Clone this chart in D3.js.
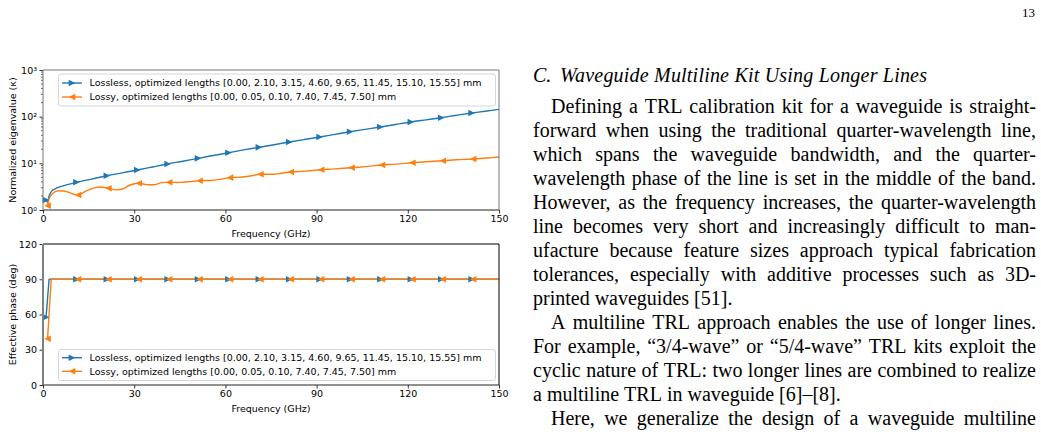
<!DOCTYPE html>
<html><head><meta charset="utf-8">
<script src="https://cdn.jsdelivr.net/npm/d3@7"></script>
<style>html,body{margin:0;padding:0;background:#fff;overflow:hidden}</style>
</head><body>
<svg id="page" width="1041" height="438" xmlns="http://www.w3.org/2000/svg"></svg>
<script>
// ---------------- data ----------------
const losslessFreq  = [1, 1.5, 2, 3, 4, 6, 8, 11, 16, 21, 26, 31, 36, 41, 46, 51, 56, 61, 66, 71, 76, 81, 86, 91, 96, 101, 106, 111, 116, 121, 126, 131, 136, 141, 146, 150];
const losslessKappa = [1.64, 1.45, 2.0, 2.6, 2.85, 3.2, 3.5, 3.92, 4.6, 5.43, 6.25, 7.2, 8.35, 9.7, 11.1, 12.8, 14.7, 16.9, 19.4, 22.0, 25.0, 28.6, 32.4, 36.6, 41.8, 47.6, 53.5, 60.1, 68.0, 76.9, 85.5, 95.0, 107, 119.7, 132, 143];
const lossyFreq  = [1.5, 2.3, 4, 5.6, 7.8, 10, 11.5, 14.4, 17.1, 19.3, 21.5, 24.2, 26.4, 28.6, 31.5, 34.1, 36.8, 39, 41.5, 45, 48.4, 51.5, 54.9, 58.2, 61.5, 64.8, 68.1, 71.5, 76, 78.5, 81.5, 86, 91.5, 96, 101.5, 106, 111.5, 116, 121.5, 126, 131.5, 136, 141.5, 146, 150];
const lossyKappa = [1.24, 1.93, 2.47, 2.59, 2.47, 2.2, 2.1, 2.6, 3.01, 3.1, 2.92, 2.7, 2.85, 3.43, 3.73, 3.5, 3.5, 3.85, 3.92, 3.9, 4.05, 4.25, 4.3, 4.54, 4.93, 5.05, 5.35, 5.82, 5.85, 6.15, 6.52, 6.8, 7.3, 7.6, 8.06, 8.5, 9.2, 9.6, 10.3, 10.8, 11.4, 11.9, 12.4, 13.0, 13.7];
const losslessMarkerFreq = [1, 11, 21, 31, 41, 51, 61, 71, 81, 91, 101, 111, 121, 131, 141];
const lossyMarkerFreq    = [1.5, 11.5, 21.5, 31.5, 41.5, 51.5, 61.5, 71.5, 81.5, 91.5, 101.5, 111.5, 121.5, 131.5, 141.5];

const losslessPhaseFreq = [1, 2, 11, 21, 31, 41, 51, 61, 71, 81, 91, 101, 111, 121, 131, 141, 150];
const losslessPhase     = [57.6, 90, 90, 90, 90, 90, 90, 90, 90, 90, 90, 90, 90, 90, 90, 90, 90];
const lossyPhaseFreq = [1.5, 2.7, 11.5, 21.5, 31.5, 41.5, 51.5, 61.5, 71.5, 81.5, 91.5, 101.5, 111.5, 121.5, 131.5, 141.5, 150];
const lossyPhase     = [39.4, 90, 90, 90, 90, 90, 90, 90, 90, 90, 90, 90, 90, 90, 90, 90, 90];

const freqTicks  = [0, 30, 60, 90, 120, 150];
const kappaTicks = [1, 10, 100, 1000];
const kappaTickLabels = ["10\u2070", "10\u00B9", "10\u00B2", "10\u00B3"];
const phaseTicks = [0, 30, 60, 90, 120];
const seriesNames = [
  "Lossless, optimized lengths [0.00, 2.10, 3.15, 4.60, 9.65, 11.45, 15.10, 15.55] mm",
  "Lossy, optimized lengths [0.00, 0.05, 0.10, 7.40, 7.45, 7.50] mm"
];
const seriesColors = ["#1f77b4", "#ff7f0e"];
const xLabel = "Frequency (GHz)";
const kappaLabel = "Normalized eigenvalue (\u03BA)";
const phaseLabel = "Effective phase (deg)";

const pageNumber = "13";
const headingNum = "C.";
const headingText = "Waveguide Multiline Kit Using Longer Lines";
// [text, indent, justify]
const bodyLines = [
  ["Defining a TRL calibration kit for a waveguide is straight-", true, true],
  ["forward when using the traditional quarter-wavelength line,", false, true],
  ["which spans the waveguide bandwidth, and the quarter-", false, true],
  ["wavelength phase of the line is set in the middle of the band.", false, true],
  ["However, as the frequency increases, the quarter-wavelength", false, true],
  ["line becomes very short and increasingly difficult to man-", false, true],
  ["ufacture because feature sizes approach typical fabrication", false, true],
  ["tolerances, especially with additive processes such as 3D-", false, true],
  ["printed waveguides [51].", false, false],
  ["A multiline TRL approach enables the use of longer lines.", true, true],
  ["For example, \u201C3/4-wave\u201D or \u201C5/4-wave\u201D TRL kits exploit the", false, true],
  ["cyclic nature of TRL: two longer lines are combined to realize", false, true],
  ["a multiline TRL in waveguide [6]\u2013[8].", false, false],
  ["Here, we generalize the design of a waveguide multiline", true, true]
];

// ---------------- drawing ----------------
const svg = d3.select("#page");
svg.append("rect").attr("width", 1041).attr("height", 438).attr("fill", "#fff");
const chartFont = "DejaVu Sans, sans-serif";
const fs = 9.5;

function triPath(dir, s) {
  return dir > 0 ? `M${s},0L${-s},${-s}L${-s},${s}Z` : `M${-s},0L${s},${-s}L${s},${s}Z`;
}

function drawPanel(opts) {
  const { x, y, top, bottom, left, right, frameColor, leftColor, leftWidth } = opts;
  const g = svg.append("g");
  const id = "clip" + Math.round(top);
  svg.append("clipPath").attr("id", id).append("rect")
    .attr("x", left).attr("y", top - 5).attr("width", right - left).attr("height", bottom - top + 5);

  const xa = g.append("g").attr("transform", `translate(0,${bottom})`)
    .call(d3.axisBottom(x).tickValues(freqTicks).tickFormat(d3.format("d")).tickSizeOuter(0).tickSize(3.5).tickPadding(2));
  xa.select(".domain").remove();
  xa.selectAll("text").attr("font-family", chartFont).attr("font-size", fs).attr("fill", "#000");
  xa.selectAll("line").attr("stroke", "#000").attr("stroke-width", 0.8);

  const ya = g.append("g").attr("transform", `translate(${left},0)`)
    .call(d3.axisLeft(y).tickValues(opts.yTicks).tickFormat((d, i) => opts.yLabels ? opts.yLabels[i] : d).tickSizeOuter(0).tickSize(3.5).tickPadding(2.5));
  ya.select(".domain").remove();
  ya.selectAll("text").attr("font-family", chartFont).attr("font-size", fs).attr("fill", "#000");
  ya.selectAll("line").attr("stroke", "#000").attr("stroke-width", 0.8);

  if (opts.minor) {
    const minor = y.ticks().filter(v => !opts.yTicks.includes(v));
    g.append("g").selectAll("line").data(minor).join("line")
      .attr("x1", left).attr("x2", left - 2).attr("y1", d => y(d)).attr("y2", d => y(d))
      .attr("stroke", "#000").attr("stroke-width", 0.6);
  }

  g.append("text").attr("x", (left + right) / 2).attr("y", bottom + 26.5).attr("text-anchor", "middle")
    .attr("font-family", chartFont).attr("font-size", fs).text(xLabel);
  g.append("text").attr("transform", `translate(13,${(top + bottom) / 2}) rotate(-90)`).attr("dy", "0.35em")
    .attr("text-anchor", "middle").attr("font-family", chartFont).attr("font-size", fs).text(opts.yTitle);

  const plot = g.append("g").attr("clip-path", `url(#${id})`);
  opts.series.forEach((s, k) => {
    const line = d3.line().x(d => x(d[0])).y(d => y(d[1])).curve(opts.curve);
    const pts = s.freq.map((f, i) => [f, s.val[i]]);
    plot.append("path").attr("d", line(pts)).attr("fill", "none")
      .attr("stroke", seriesColors[k]).attr("stroke-width", 1.4).attr("stroke-linejoin", "round");
    const mk = s.markers.map(f => [f, s.val[s.freq.indexOf(f)]]);
    g.append("g").selectAll("path").data(mk).join("path")
      .attr("transform", d => `translate(${x(d[0])},${y(d[1])})`)
      .attr("d", triPath(k === 0 ? 1 : -1, 3.3)).attr("fill", seriesColors[k]);
  });

  g.append("line").attr("x1", left).attr("x2", right).attr("y1", top).attr("y2", top).attr("stroke", frameColor).attr("stroke-width", 1);
  g.append("line").attr("x1", right).attr("x2", right).attr("y1", top).attr("y2", bottom).attr("stroke", frameColor).attr("stroke-width", 1);
  g.append("line").attr("x1", left).attr("x2", right).attr("y1", bottom).attr("y2", bottom).attr("stroke", "#222").attr("stroke-width", 1);
  g.append("line").attr("x1", left).attr("x2", left).attr("y1", top).attr("y2", bottom).attr("stroke", leftColor).attr("stroke-width", leftWidth);

  const L = opts.legend;
  g.append("rect").attr("x", L.x).attr("y", L.y).attr("width", L.w).attr("height", L.h).attr("rx", 2.5)
    .attr("fill", "#fff").attr("fill-opacity", 0.8).attr("stroke", "#cccccc").attr("stroke-width", 0.8);
  seriesNames.forEach((name, k) => {
    const yy = L.rows[k];
    g.append("line").attr("x1", L.x + 3.5).attr("x2", L.x + 23.5).attr("y1", yy).attr("y2", yy)
      .attr("stroke", seriesColors[k]).attr("stroke-width", 1.4);
    g.append("path").attr("transform", `translate(${L.x + 13.5},${yy})`).attr("d", triPath(k === 0 ? 1 : -1, 3.3)).attr("fill", seriesColors[k]);
    g.append("text").attr("x", L.x + 31).attr("y", yy).attr("dy", "0.35em").attr("font-family", chartFont)
      .attr("font-size", fs).text(name);
  });
}

const xA = d3.scaleLinear().domain([0, 150]).range([43, 499]);
const yA = d3.scaleLog().domain([1, 1000]).range([210, 70]);
drawPanel({
  x: xA, y: yA, top: 70, bottom: 210, left: 43, right: 499,
  frameColor: "#777", leftColor: "#777", leftWidth: 1,
  yTicks: kappaTicks, yLabels: kappaTickLabels, minor: true, yTitle: kappaLabel,
  curve: d3.curveCatmullRom,
  series: [
    { freq: losslessFreq, val: losslessKappa, markers: losslessMarkerFreq },
    { freq: lossyFreq, val: lossyKappa, markers: lossyMarkerFreq }
  ],
  legend: { x: 58.5, y: 74, w: 437, h: 32, rows: [83, 97] }
});

const xB = d3.scaleLinear().domain([0, 150]).range([43, 499]);
const yB = d3.scaleLinear().domain([0, 120]).range([385, 244]);
drawPanel({
  x: xB, y: yB, top: 244, bottom: 385, left: 43, right: 499,
  frameColor: "#000", leftColor: "#808080", leftWidth: 2,
  yTicks: phaseTicks, yLabels: null, minor: false, yTitle: phaseLabel,
  curve: d3.curveLinear,
  series: [
    { freq: losslessPhaseFreq, val: losslessPhase, markers: losslessMarkerFreq },
    { freq: lossyPhaseFreq, val: lossyPhase, markers: lossyMarkerFreq }
  ],
  legend: { x: 58.5, y: 349.5, w: 437, h: 31, rows: [357.7, 371.3] }
});

// ---------------- text column ----------------
const serif = "Liberation Serif, Times New Roman, serif";
svg.append("text").attr("x", 1035).attr("y", 17).attr("text-anchor", "end")
  .attr("font-family", serif).attr("font-size", 13).text(pageNumber);
const hg = svg.append("g").attr("font-family", serif).attr("font-style", "italic").attr("font-size", 20);
hg.append("text").attr("x", 533).attr("y", 82).text(headingNum);
hg.append("text").attr("x", 560).attr("y", 82).attr("textLength", 367).attr("lengthAdjust", "spacing").text(headingText);

const colLeft = 533, colRight = 1036, indent = 18, baseline0 = 113, lead = 24;
const tg = svg.append("g").attr("font-family", serif).attr("font-size", 20).attr("fill", "#000");
bodyLines.forEach(([txt, ind, just], i) => {
  const yy = baseline0 + i * lead;
  const words = txt.split(" ");
  const start = colLeft + (ind ? indent : 0);
  const nodes = words.map(w => tg.append("text").attr("y", yy).text(w));
  const widths = nodes.map(n => n.node().getComputedTextLength());
  const total = d3.sum(widths);
  const gap = just && words.length > 1 ? (colRight - start - total) / (words.length - 1) : 5;
  let xx = start;
  nodes.forEach((n, k) => { n.attr("x", xx); xx += widths[k] + gap; });
});
</script>
</body></html>
